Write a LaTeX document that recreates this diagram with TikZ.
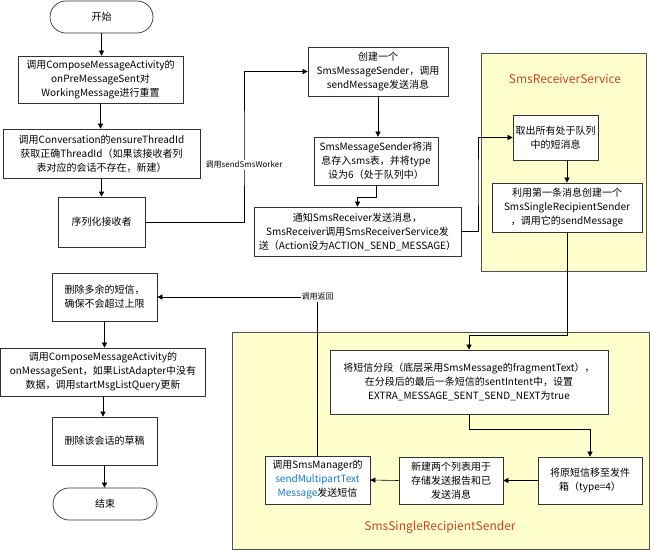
\documentclass[tikz,border=0pt]{standalone}
\usepackage{fontspec}
\setmainfont{Noto Sans CJK SC}
\usetikzlibrary{arrows.meta}
\definecolor{boxline}{RGB}{50,50,50}
\definecolor{pale}{RGB}{255,255,206}
\definecolor{titlered}{RGB}{196,72,42}
\definecolor{linkblue}{RGB}{30,120,200}
\begin{document}
\begin{tikzpicture}[x=1pt,y=-1pt,
  box/.style={draw=boxline, line width=0.7pt, fill=white, align=center, inner sep=2pt, font=\fontsize{10}{14}\selectfont},
  term/.style={box, rounded corners=16pt},
  cont/.style={draw=boxline!85, line width=0.8pt, fill=pale},
  arr/.style={-{Triangle[length=5pt,width=5pt]}, line width=0.6pt, black},
  lbl/.style={font=\fontsize{8}{9}\selectfont, inner sep=1pt, fill=white},
  title/.style={font=\fontsize{12}{14}\selectfont, text=titlered}]
\useasboundingbox (0,0) rectangle (650,551);
% containers
\draw[cont] (481,53) rectangle (646,271);
\draw[cont] (232,332) rectangle (649,549);
\node[title] (t1) at (565,79) {SmsReceiverService};
\node[title] (t2) at (440,527) {SmsSingleRecipientSender};
% left column
\node[term, minimum width=103pt, minimum height=32pt] (start) at (101.5,17) {开始};
\node[box, minimum width=165pt, minimum height=47pt] (b1) at (100.5,79.5) {调用ComposeMessageActivity的\\onPreMessageSent对\\WorkingMessage进行重置};
\node[box, minimum width=197pt, minimum height=49pt] (b2) at (101.5,153.5) {调用Conversation的ensureThreadId\\获取正确ThreadId（如果该接收者列\\表对应的会话不存在，新建）};
\node[box, minimum width=87pt, minimum height=50pt] (b3) at (101.5,222) {序列化接收者};
% middle column
\node[box, minimum width=140pt, minimum height=49pt] (m1) at (378,71.5) {创建一个\\SmsMessageSender，调用\\sendMessage发送消息};
\node[box, minimum width=124pt, minimum height=48pt] (m2) at (376,161) {SmsMessageSender将消\\息存入sms表，并将type\\设为6（处于队列中）};
\node[box, minimum width=207pt, minimum height=49pt] (m3) at (357.5,231.5) {通知SmsReceiver发送消息，\\SmsReceiver调用SmsReceiverService发\\送（Action设为ACTION\_SEND\_MESSAGE）};
% right top
\node[box, minimum width=85pt, minimum height=45pt] (r1) at (555.5,137.5) {取出所有处于队列\\中的短消息};
\node[box, minimum width=150pt, minimum height=49pt] (r2) at (567,207.5) {利用第一条消息创建一个\\SmsSingleRecipientSender\\，调用它的sendMessage};
% bottom container
\node[box, minimum width=278pt, minimum height=64pt] (s1) at (469,382) {将短信分段（底层采用SmsMessage的fragmentText），\\在分段后的最后一条短信的sentIntent中，设置\\EXTRA\_MESSAGE\_SENT\_SEND\_NEXT为true};
\node[box, minimum width=104pt, minimum height=47pt] (s2) at (590,480.5) {将原短信移至发件\\箱（type=4）};
\node[box, minimum width=104pt, minimum height=47pt] (s3) at (451,480.5) {新建两个列表用于\\存储发送报告和已\\发送消息};
\node[box, minimum width=105pt, minimum height=48pt] (s4) at (317.5,480) {调用SmsManager的\\\textcolor{linkblue}{sendMultipartText}\\\textcolor{linkblue}{Message}发送短信};
% left bottom
\node[box, minimum width=105pt, minimum height=48pt] (l1) at (104.5,297) {删除多余的短信，\\确保不会超过上限};
\node[box, minimum width=205pt, minimum height=48pt] (l2) at (103,372) {调用ComposeMessageActivity的\\onMessageSent，如果ListAdapter中没有\\数据，调用startMsgListQuery更新};
\node[box, minimum width=105pt, minimum height=48pt] (l3) at (104.5,441) {删除该会话的草稿};
\node[term, minimum width=104pt, minimum height=32pt] (end) at (105,504) {结束};
% bend coordinates
\coordinate (k1) at (244,150);
\coordinate (k2) at (478,180);
% connectors
\draw[arr] (start.south) -- (start.south |- b1.north);
\draw[arr] (b1.south) -- (b1.south |- b2.north);
\draw[arr] (b2.south) -- (b2.south |- b3.north);
\draw[arr] (b3.east) -| (k1) |- (m1.west);
\node[lbl] (lab1) at (244,165) {调用sendSmsWorker};
\draw[arr] (m1.south) -- (m1.south |- m2.north);
\draw[arr] (m2.south) -- ++(0,12) -| (m3.north);
\draw[arr] (m3.east) -| (k2) |- (r1.west);
\draw[arr] (r2.north |- r1.south) -- (r2.north);
\draw[arr] (r2.south) -- ++(0,103) -| (s1.north);
\draw[arr] (s1.south) -- ++(0,15) -| (s2.north);
\draw[arr] (s2.west) -- (s3.east);
\draw[arr] (s3.west) -- (s4.east);
\draw[arr] (s4.north) |- (l1.east) node[lbl, pos=0.5] (lab2) {调用返回};
\draw[arr] (l1.south) -- (l1.south |- l2.north);
\draw[arr] (l2.south) -- (l2.south |- l3.north);
\draw[arr] (l3.south) -- (l3.south |- end.north);
\end{tikzpicture}
\end{document}
